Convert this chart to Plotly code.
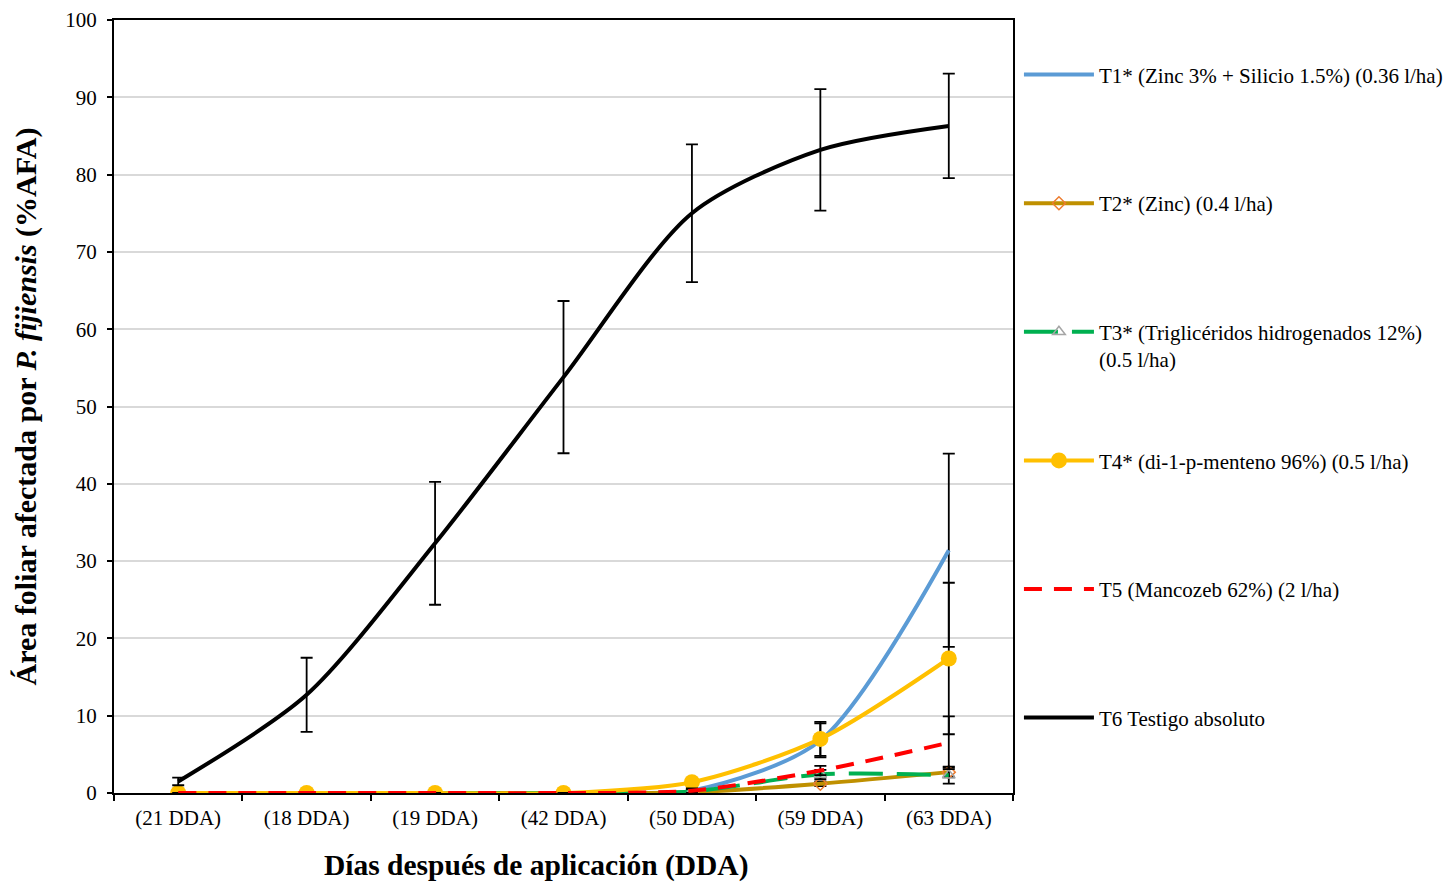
import plotly.graph_objects as go

categories = ["(21 DDA)", "(18 DDA)", "(19 DDA)", "(42 DDA)", "(50 DDA)", "(59 DDA)", "(63 DDA)"]

names = [
    "T1* (Zinc 3% + Silicio 1.5%) (0.36 l/ha)",
    "T2* (Zinc) (0.4 l/ha)",
    "T3* (Triglicéridos hidrogenados 12%)<br>(0.5 l/ha)",
    "T4* (di-1-p-menteno 96%) (0.5 l/ha)",
    "T5 (Mancozeb 62%) (2 l/ha)",
    "T6 Testigo absoluto",
]

t1 = [0.0, 0.0, 0.0, 0.0, 0.3, 6.8, 31.4]
t2 = [0.0, 0.0, 0.0, 0.0, 0.1, 1.2, 2.7]
t3 = [0.0, 0.0, 0.0, 0.0, 0.2, 2.4, 2.3]
t4 = [0.0, 0.0, 0.0, 0.0, 1.4, 7.0, 17.4]
t5 = [0.0, 0.0, 0.0, 0.0, 0.3, 2.9, 6.5]
t6 = [1.5, 12.7, 32.3, 53.8, 75.0, 83.2, 86.3]

e1 = [0.0, 0.0, 0.0, 0.0, 0.3, 2.2, 12.5]
e2 = [0.0, 0.0, 0.0, 0.0, 0.1, 0.3, 0.6]
e3 = [0.0, 0.0, 0.0, 0.0, 0.2, 0.6, 1.1]
e4 = [0.0, 0.0, 0.0, 0.0, 0.5, 2.2, 9.8]
e5 = [0.0, 0.0, 0.0, 0.0, 0.3, 0.6, 3.4]
e6 = [0.5, 4.8, 7.95, 9.85, 8.9, 7.85, 6.75]

values = [t1, t2, t3, t4, t5, t6]
errors = [e1, e2, e3, e4, e5, e6]

line_colors = ["#5B9BD5", "#BF9000", "#00B050", "#FFC000", "#FF0000", "#000000"]
dashes = ["solid", "solid", "34px,14px", "solid", "18px,12px", "solid"]
markers = [
    dict(size=1, opacity=0),
    dict(symbol="diamond-open", size=10, color="#ED7D31", line=dict(width=1.5, color="#ED7D31")),
    dict(symbol="triangle-up-open", size=11, color="#A5A5A5", line=dict(width=1.5, color="#A5A5A5")),
    dict(symbol="circle", size=16, color="#FFC000"),
    dict(size=1, opacity=0),
    dict(size=1, opacity=0),
]
modes = ["lines", "lines+markers", "lines+markers", "lines+markers", "lines", "lines"]

fig = go.Figure()
for i in range(6):
    fig.add_trace(go.Scatter(
        x=categories, y=values[i], name=names[i] + ("" if i == 2 else "<br> "),
        mode=modes[i],
        line=dict(color=line_colors[i], width=4, dash=dashes[i], shape="spline", smoothing=0.8),
        marker=markers[i],
        error_y=dict(type="data", array=errors[i], visible=True, color="#000000", thickness=1.8, width=6),
        legendgroup=str(i),
    ))

font_family = "Liberation Serif, Times New Roman, serif"

fig.update_layout(
    width=1444, height=875,
    margin=dict(l=106, r=439, t=12, b=90, autoexpand=False),
    plot_bgcolor="white", paper_bgcolor="white",
    font=dict(family=font_family, size=21, color="black"),
    showlegend=True,
    legend=dict(
        xref="container", yref="container",
        x=0.7001, xanchor="left", y=0.9469, yanchor="top",
        maxheight=860,
        font=dict(family=font_family, size=21, color="black"),
        tracegroupgap=71, itemwidth=70, valign="top",
        bgcolor="rgba(0,0,0,0)",
    ),
    xaxis=dict(
        type="category", range=[-0.5, 6.5],
        showline=True, linecolor="black", linewidth=2, mirror=True,
        ticks="outside", tickson="boundaries", ticklen=6, tickcolor="black", tickwidth=1.5,
        tickfont=dict(family=font_family, size=21), ticklabelstandoff=5,
        showgrid=False,
    ),
    yaxis=dict(
        range=[0, 100], dtick=10,
        showline=True, linecolor="black", linewidth=2, mirror=True,
        ticks="outside", ticklen=5, tickcolor="black", tickwidth=1.5,
        tickfont=dict(family=font_family, size=21), ticklabelstandoff=6,
        showgrid=True, gridcolor="#D9D9D9", gridwidth=1.5,
        zeroline=False,
        title=dict(text="<b>Área foliar afectada por <i>P. fijiensis</i> (%AFA)</b>",
                   font=dict(family=font_family, size=30), standoff=20),
    ),
    annotations=[dict(
        text="<b>Días después de aplicación (DDA)</b>", xref="paper", yref="paper",
        x=0.4705, y=-0.094, xanchor="center", yanchor="middle", showarrow=False,
        font=dict(family=font_family, size=29.5),
    )],
)

fig.write_html("out.html")
